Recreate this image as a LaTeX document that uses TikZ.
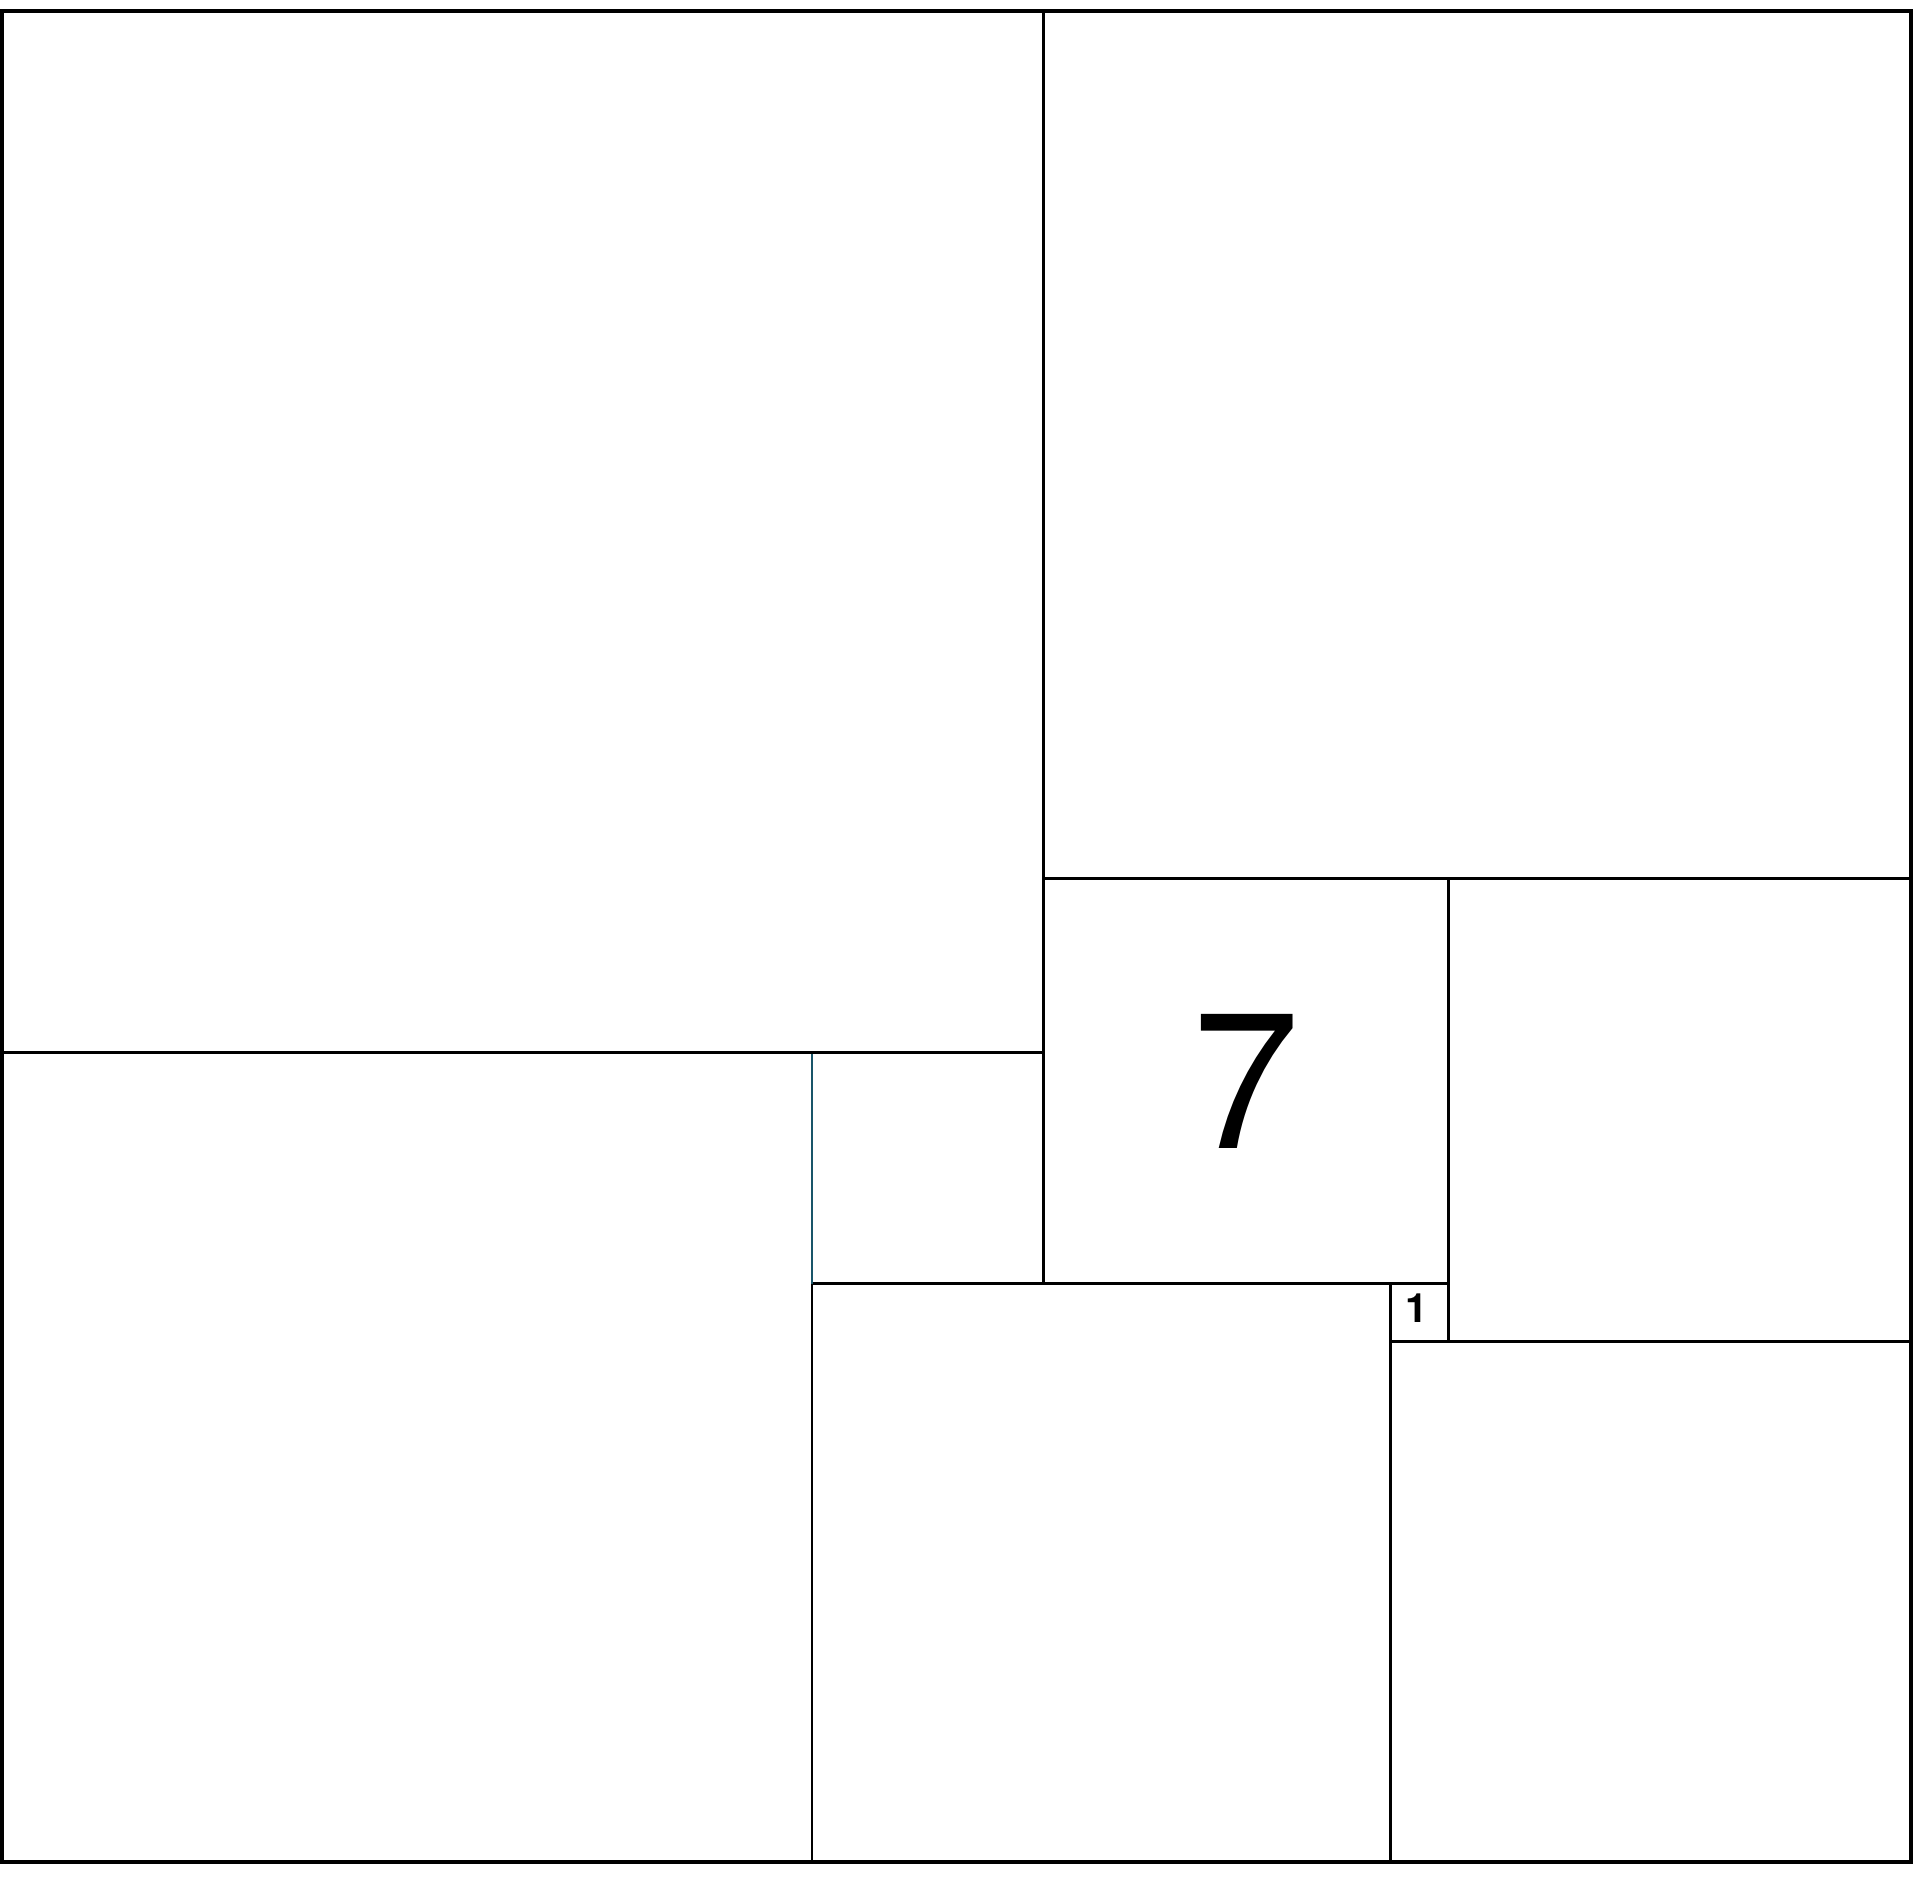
\documentclass[tikz,border=0pt]{standalone}
\usepackage{fontspec}
\setmainfont{TeX Gyre Heros}
\definecolor{tealline}{RGB}{25,85,105}
\begin{document}
\begin{tikzpicture}[x=0.5785cm, y=-0.5785cm,
  sq/.style={draw=black, line width=0.8pt},
  lbl/.style={inner sep=0pt}]
\useasboundingbox (-0.0346,-0.1902) rectangle (33.085,32.29);
% squares
\draw[sq] (18,0) rectangle (33,15);
\draw[sq] (18,15) rectangle (25,22);
\draw[sq] (25,15) rectangle (33,23);
\draw[sq] (0,18) rectangle (14,32);
\draw[sq] (14,22) rectangle (24,32);
\draw[sq] (24,22) rectangle (25,23);
\draw[sq] (24,23) rectangle (33,32);
% the 4-square
\draw[sq] (14,18) -- (18,18) -- (18,22) -- (14,22);
\draw[draw=tealline, line width=0.8pt] (14,18) -- (14,22);
% the 18-square (slightly heavier edges)
\draw[sq, line width=1pt] (0,0) rectangle (18,18);
% outer frame
\draw[line width=1pt] (0,0) rectangle (33,32);
% labels
\node[lbl, font=\fontsize{55}{62}\selectfont] (seven) at (21.5,18.5) {7};
\node[lbl, font=\fontsize{11.5}{13}\selectfont\bfseries] (one) at (24.45,22.42) {1};
\end{tikzpicture}
\end{document}
